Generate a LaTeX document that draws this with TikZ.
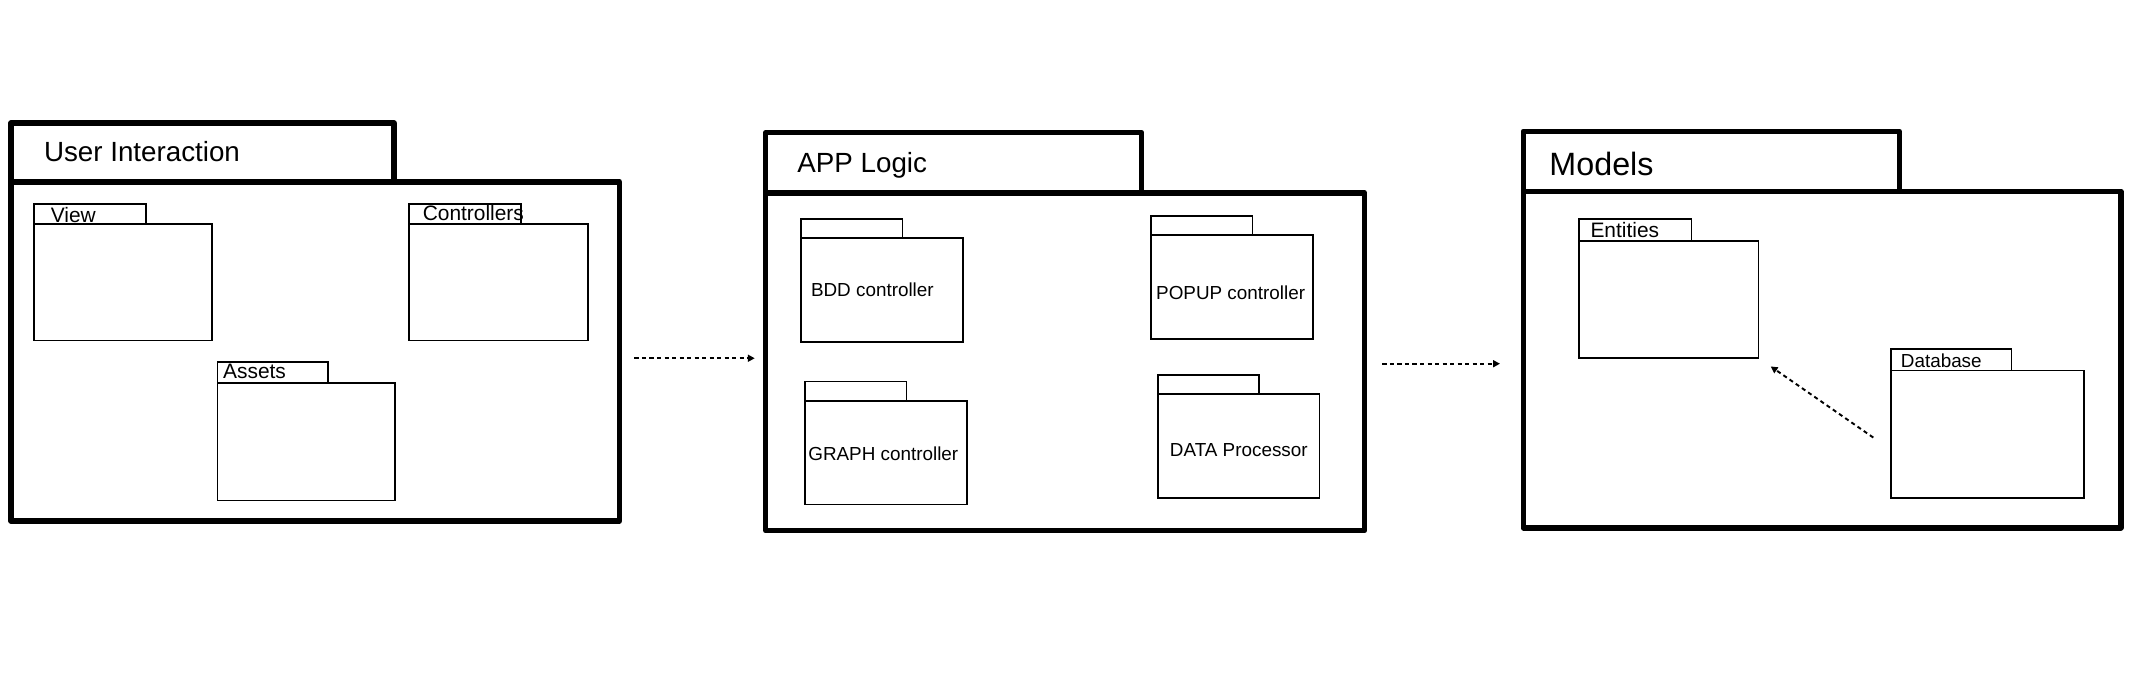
\documentclass[tikz,border=0pt]{standalone}
\usepackage{fontspec}
\setmainfont{Liberation Sans}
\usetikzlibrary{arrows.meta}
\begin{document}
\begin{tikzpicture}[x=1pt,y=-1pt,
  pkg/.style={draw, line width=4pt, line join=round, inner sep=0pt, outer sep=0pt, anchor=north west},
  sub/.style={draw, line width=1.3pt, inner sep=0pt, outer sep=0pt, anchor=north west},
  lbl/.style={inner sep=0pt, anchor=base west},
  clbl/.style={inner sep=0pt, anchor=base},
  ttl/.style={lbl, font=\fontsize{20.3}{24}\selectfont},
  sml/.style={font=\fontsize{15.3}{18}\selectfont},
  mid/.style={font=\fontsize{13.8}{16}\selectfont},
  dep/.style={line width=1.4pt, dash pattern=on 3pt off 2.5pt, -{Triangle[length=5pt,width=5pt]}}]
\useasboundingbox (0,0) rectangle (1568,494);
% Package 1
\node[pkg, minimum width=280, minimum height=43] (uitab) at (8,90) {};
\node[pkg, minimum width=445, minimum height=248] (uibody) at (8,133) {};
\node[ttl] (uititle) at (32,118) {User Interaction};
\node[sub, minimum width=82, minimum height=15] (viewtab) at (25,149) {};
\node[sub, minimum width=130, minimum height=85] (viewbody) at (25,164) {};
\node[lbl, sml] (viewlbl) at (37,162.5) {View};
\node[sub, minimum width=82, minimum height=15] (ctrltab) at (299,149) {};
\node[sub, minimum width=131, minimum height=85] (ctrlbody) at (299,164) {};
\node[lbl, sml] (ctrllbl) at (309,161) {Controllers};
\node[sub, minimum width=81, minimum height=15] (assettab) at (159,265) {};
\node[sub, minimum width=130, minimum height=86] (assetbody) at (159,280) {};
\node[lbl, sml] (assetlbl) at (163,277) {Assets};
% Package 2
\node[pkg, minimum width=275, minimum height=44] (apptab) at (560,97) {};
\node[pkg, minimum width=438, minimum height=247] (appbody) at (560,141) {};
\node[ttl] (apptitle) at (583,126) {APP Logic};
\node[sub, minimum width=74, minimum height=14] (bddtab) at (586,160) {};
\node[sub, minimum width=118, minimum height=76] (bddbody) at (586,174) {};
\node[clbl, mid] (bddlbl) at (638,217) {BDD controller};
\node[sub, minimum width=74, minimum height=14] (popuptab) at (842,158) {};
\node[sub, minimum width=118, minimum height=76] (popupbody) at (842,172) {};
\node[clbl, mid] (popuplbl) at (900,219) {POPUP controller};
\node[sub, minimum width=74, minimum height=14] (graphtab) at (589,279) {};
\node[sub, minimum width=118, minimum height=76] (graphbody) at (589,293) {};
\node[clbl, mid] (graphlbl) at (646,337) {GRAPH controller};
\node[sub, minimum width=74, minimum height=14] (datatab) at (847,274) {};
\node[sub, minimum width=118, minimum height=76] (databody) at (847,288) {};
\node[clbl, mid] (datalbl) at (906,333.5) {DATA Processor};
% Package 3
\node[pkg, minimum width=275, minimum height=44] (modtab) at (1114,96) {};
\node[pkg, minimum width=437, minimum height=246] (modbody) at (1114,140) {};
\node[ttl, font=\fontsize{23.6}{28}\selectfont] (modtitle) at (1133,128) {Models};
\node[sub, minimum width=82, minimum height=16] (enttab) at (1155,160) {};
\node[sub, minimum width=131, minimum height=86] (entbody) at (1155,176) {};
\node[lbl, sml] (entlbl) at (1163,174) {Entities};
\node[sub, minimum width=88, minimum height=16] (dbtab) at (1383,255) {};
\node[sub, minimum width=141, minimum height=93] (dbbody) at (1383,271) {};
\node[lbl, mid] (dblbl) at (1390,268.5) {Database};
% Connectors
\coordinate (a1s) at (464,262);
\coordinate (a1e) at (552,262);
\coordinate (a2s) at (1011,266);
\coordinate (a2e) at (1097,266);
\coordinate (a3s) at (1370,320);
\coordinate (a3e) at (1295,268);
\draw[dep] (a1s) -- (a1e);
\draw[dep] (a2s) -- (a2e);
\draw[dep] (a3s) -- (a3e);
\end{tikzpicture}
\end{document}
